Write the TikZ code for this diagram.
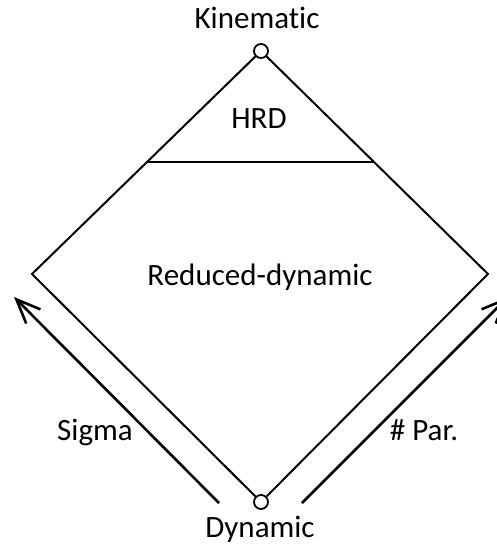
\documentclass[tikz,border=0pt]{standalone}
\usepackage{fontspec}
\setmainfont{Carlito}[Ligatures=NoCommon]
\usetikzlibrary{arrows.meta}
\begin{document}
\begin{tikzpicture}[x=1pt,y=-1pt,
  lbl/.style={anchor=base, inner sep=0pt, font=\fontsize{31}{37}\selectfont},
  edge/.style={line width=2pt, line join=miter},
  vtx/.style={circle, draw, line width=1.8pt, minimum size=14pt, inner sep=0pt, fill=white},
  axis/.style={line width=2.6pt, -{Straight Barb[length=24pt,width=20pt]}}]
\useasboundingbox (0,0) rectangle (496,544);
\node[vtx] (top) at (261,51) {};
\node[vtx] (bot) at (261,502) {};
\coordinate (L) at (32,274);
\coordinate (R) at (488,274);
\coordinate (HL) at (147,162);
\coordinate (HR) at (374,162);
\draw[edge] (top) -- (L) -- (bot);
\draw[edge] (top) -- (R) -- (bot);
\draw[edge] (HL) -- (HR);
\coordinate (sa) at (219,503);
\coordinate (st) at (14,297);
\coordinate (pa) at (302,503);
\coordinate (pt) at (508,297);
\draw[axis] (sa) -- (st);
\draw[axis] (pa) -- (pt);
\node[lbl] (kin) at (257,28) {Kinematic};
\node[lbl] (hrd) at (259,128) {HRD};
\node[lbl] (red) at (260,285) {Reduced-dynamic};
\node[lbl] (sig) at (95,440) {Sigma};
\node[lbl] (par) at (424,440) {\# Par.};
\node[lbl] (dyn) at (260,537) {Dynamic};
\end{tikzpicture}
\end{document}
